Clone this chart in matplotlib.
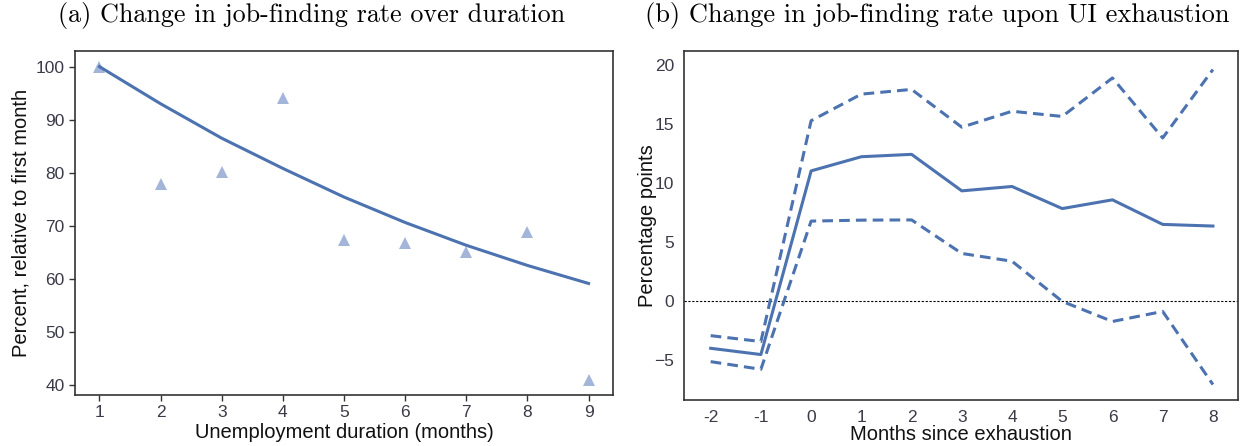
import matplotlib
matplotlib.use("Agg")
import matplotlib.pyplot as plt
from matplotlib import font_manager as fm

# ---- data ----
duration = [1, 2, 3, 4, 5, 6, 7, 8, 9]
empirical = [100, 77.8, 80.1, 94.1, 67.3, 66.8, 65.1, 68.9, 40.9]
model = [100, 93.0, 86.5, 80.8, 75.4, 70.6, 66.3, 62.5, 59.1]

months = [-2, -1, 0, 1, 2, 3, 4, 5, 6, 7, 8]
estimate = [-3.97, -4.5, 11.05, 12.25, 12.45, 9.36, 9.73, 7.86, 8.6, 6.52, 6.38]
upper = [-2.9, -3.4, 15.3, 17.55, 17.95, 14.75, 16.1, 15.66, 18.92, 13.84, 19.63]
lower = [-5.1, -5.75, 6.8, 6.88, 6.9, 4.06, 3.4, 0.0, -1.7, -0.85, -7.04]

names = {f.name for f in fm.fontManager.ttflist}
label_font = ['Liberation Sans Narrow', 'DejaVu Sans'] if 'Liberation Sans Narrow' in names else ['Liberation Sans', 'DejaVu Sans']
tick_font = ['Liberation Sans', 'DejaVu Sans']
title_font = ['cmr10', 'DejaVu Serif']

blue = '#4c72b0'
light = '#a3b5d9'
spine_c = '#333333'
tick_c = '#3a3a48'

fig = plt.figure(figsize=(12.46, 4.46), dpi=100)
ax1 = fig.add_axes([0.0602, 0.1143, 0.4318, 0.7713])
ax2 = fig.add_axes([0.549, 0.1031, 0.4446, 0.7825])

# panel (a)
ax1.plot(duration, empirical, linestyle='none', marker='^', markersize=8.5,
         color=light, markeredgewidth=0)
ax1.plot(duration, model, color=blue, linewidth=2.2)
ax1.set_xticks(duration)
ax1.set_yticks([40, 50, 60, 70, 80, 90, 100])
ax1.set_xlim(0.6, 9.4)
ax1.set_ylim(38.05, 102.95)
ax1.tick_params(axis='both', direction='out', length=4, width=1, colors=spine_c,
                labelcolor=tick_c, labelsize=12.5)
ax1.set_xlabel('Unemployment duration (months)', family=label_font, fontsize=14.5, color='#111111',
               labelpad=2)
ax1.set_ylabel('Percent, relative to first month', family=label_font, fontsize=14.5, color='#111111')

# panel (b)
ax2.axhline(0, color='black', linestyle=(0, (2, 1.5)), linewidth=0.8)
ax2.plot(months, estimate, color=blue, linewidth=2.2)
ax2.plot(months, upper, color=blue, linewidth=2.2, linestyle=(0, (3.5, 2)))
ax2.plot(months, lower, color=blue, linewidth=2.2, linestyle=(0, (3.5, 2)))
ax2.set_xticks(months)
ax2.set_xticklabels([str(m) for m in months])
ax2.set_yticks([-5, 0, 5, 10, 15, 20])
ax2.set_yticklabels(['\u22125', '0', '5', '10', '15', '20'])
ax2.set_xlim(-2.53, 8.5)
ax2.set_ylim(-8.35, 21.2)
ax2.tick_params(axis='both', length=0, colors=spine_c, labelcolor=tick_c,
                labelsize=12.5, pad=7)
ax2.set_xlabel('Months since exhaustion', family=label_font, fontsize=14.5, color='#111111',
               labelpad=0)
ax2.set_ylabel('Percentage points', family=label_font, fontsize=14.5, color='#111111',
               labelpad=-2)

for ax in (ax1, ax2):
    for s in ax.spines.values():
        s.set_color(spine_c)
        s.set_linewidth(1.2)
    for lab in ax.get_xticklabels() + ax.get_yticklabels():
        lab.set_family(tick_font)

fig.text(0.25, 0.965, '(a) Change in job-finding rate over duration', ha='center', va='center',
         family=title_font, fontsize=18.8)
fig.text(0.752, 0.965, '(b) Change in job-finding rate upon UI exhaustion', ha='center', va='center',
         family=title_font, fontsize=19)

fig.savefig('out.png', dpi=100)
